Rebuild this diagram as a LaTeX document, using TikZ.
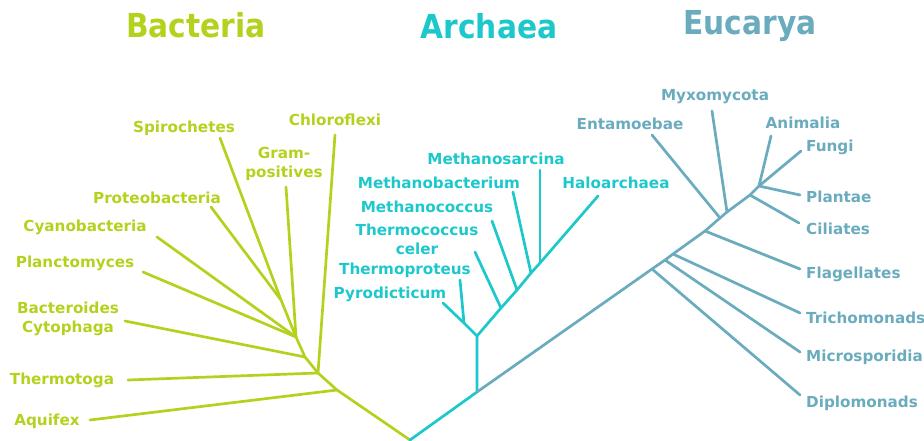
\documentclass[tikz,border=0pt]{standalone}
\usepackage{fontspec}
\setmainfont{DejaVu Sans}
\newfontfamily\condfont{DejaVu Sans Condensed}
\usetikzlibrary{positioning}
\definecolor{bactgreen}{HTML}{B3D21E}
\definecolor{archcyan}{HTML}{1CC8CC}
\definecolor{eucblue}{HTML}{6AABBE}
\tikzset{
  every picture/.append style={line cap=round,line join=round},
  tree branch/.style={line width=2.7pt},
  tree label/.style={font=\fontsize{15.2}{19}\selectfont\bfseries,align=center,inner sep=0pt},
  tree title/.style={font=\condfont\fontsize{33}{36}\selectfont\bfseries,inner sep=0pt}
}

\begin{document}
\begin{tikzpicture}[x=1pt,y=-1pt]
\useasboundingbox (0,0) rectangle (924,441);

\node[tree title,bactgreen] (bacteria) at (196,25) {Bacteria};
\node[tree title,archcyan] (archaea) at (489,26) {Archaea};
\node[tree title,eucblue] (eucarya) at (750,26) {Eucarya};

\coordinate (root) at (410,440);

% Bacteria
\begin{scope}[bactgreen]
\coordinate (bA) at (337,390);
\coordinate (bB) at (318,373);
\coordinate (bC) at (305,357);
\coordinate (bD) at (296,337);
\coordinate (bE) at (281,300);
\coordinate (aquifex end) at (90,420);
\coordinate (thermotoga end) at (128,380);
\coordinate (chloroflexi end) at (335,135);
\coordinate (bacteroides end) at (125,321);
\coordinate (grampos end) at (286,187);
\coordinate (planctomyces end) at (143,272);
\coordinate (cyano end) at (157,237);
\coordinate (proteo end) at (211,207);
\coordinate (spiro end) at (220,138);
\node[tree label] (aquifex) at (47,421) {Aquifex};
\node[tree label] (thermotoga) at (62,380) {Thermotoga};
\node[tree label] (chloroflexi) at (335,120) {Chloroflexi};
\node[tree label] (bacteroides) at (68,319) {Bacteroides\\Cytophaga};
\node[tree label] (grampos) at (284,164) {Gram-\\positives};
\node[tree label] (planctomyces) at (75,263) {Planctomyces};
\node[tree label] (cyano) at (85,227) {Cyanobacteria};
\node[tree label] (proteo) at (157,198) {Proteobacteria};
\node[tree label] (spiro) at (184,128) {Spirochetes};
\draw[tree branch] (root) -- (bA) -- (bB) -- (bC) -- (bD) -- (bE) -- (spiro end);
\draw[tree branch] (bA) -- (aquifex end);
\draw[tree branch] (bB) -- (thermotoga end);
\draw[tree branch] (bB) -- (chloroflexi end);
\draw[tree branch] (bC) -- (bacteroides end);
\draw[tree branch] (bD) -- (grampos end);
\draw[tree branch] (bD) -- (planctomyces end);
\draw[tree branch] (bD) -- (cyano end);
\draw[tree branch] (bE) -- (proteo end);
\end{scope}

% Archaea
\begin{scope}[archcyan]
\coordinate (aF) at (477,392);
\coordinate (aG) at (477,336);
\coordinate (aH) at (464,323);
\coordinate (aTc) at (501,308);
\coordinate (aMc) at (517,290);
\coordinate (aMb) at (531,273);
\coordinate (aMs) at (540,263);
\coordinate (pyro end) at (443,303);
\coordinate (thermoprot end) at (460,280);
\coordinate (thermococ end) at (475,252);
\coordinate (methcoc end) at (492,221);
\coordinate (methbac end) at (513,192);
\coordinate (methsar end) at (540,170);
\coordinate (halo end) at (598,196);
\node[tree label] (pyro) at (390,294) {Pyrodicticum};
\node[tree label] (thermoprot) at (405,270) {Thermoproteus};
\node[tree label] (thermococ) at (417,239) {Thermococcus\\celer};
\node[tree label] (methcoc) at (427,207) {Methanococcus};
\node[tree label] (methbac) at (439,183) {Methanobacterium};
\node[tree label] (methsar) at (496,159) {Methanosarcina};
\node[tree label] (halo) at (616,183) {Haloarchaea};
\draw[tree branch] (root) -- (aF) -- (aG) -- (aH) -- (pyro end);
\draw[tree branch] (aH) -- (thermoprot end);
\draw[tree branch] (aG) -- (aTc) -- (aMc) -- (aMb) -- (aMs) -- (halo end);
\draw[tree branch] (aTc) -- (thermococ end);
\draw[tree branch] (aMc) -- (methcoc end);
\draw[tree branch] (aMb) -- (methbac end);
\draw[tree branch] (aMs) -- (methsar end);
\end{scope}

% Eucarya
\begin{scope}[eucblue]
\coordinate (eDi) at (652,269);
\coordinate (eMi) at (665,260);
\coordinate (eTr) at (673,254);
\coordinate (eFl) at (705,231);
\coordinate (eEn) at (720,218);
\coordinate (eMy) at (727,212);
\coordinate (eCi) at (750,195);
\coordinate (eN) at (759,186);
\coordinate (diplo end) at (800,395);
\coordinate (micro end) at (800,352);
\coordinate (tricho end) at (800,313);
\coordinate (flag end) at (800,269);
\coordinate (cil end) at (799,223);
\coordinate (plant end) at (800,195);
\coordinate (fungi end) at (801,151);
\coordinate (anim end) at (771,136);
\coordinate (myxo end) at (712,111);
\coordinate (entam end) at (652,135);
\node[tree label,anchor=west] (diplo) at (806,403) {Diplomonads};
\node[tree label,anchor=west] (micro) at (806,357) {Microsporidia};
\node[tree label,anchor=west] (tricho) at (806,318) {Trichomonads};
\node[tree label,anchor=west] (flag) at (806,274) {Flagellates};
\node[tree label,anchor=west] (cil) at (806,229) {Ciliates};
\node[tree label,anchor=west] (plant) at (806,197) {Plantae};
\node[tree label,anchor=west] (fungi) at (806,147) {Fungi};
\node[tree label] (anim) at (803,123) {Animalia};
\node[tree label] (myxo) at (715,97) {Myxomycota};
\node[tree label] (entam) at (630,124) {Entamoebae};
\draw[tree branch] (aF) -- (eDi) -- (eMi) -- (eTr) -- (eFl) -- (eEn) -- (eMy) -- (eCi) -- (eN);
\draw[tree branch] (eDi) -- (diplo end);
\draw[tree branch] (eMi) -- (micro end);
\draw[tree branch] (eTr) -- (tricho end);
\draw[tree branch] (eFl) -- (flag end);
\draw[tree branch] (eEn) -- (entam end);
\draw[tree branch] (eMy) -- (myxo end);
\draw[tree branch] (eCi) -- (cil end);
\draw[tree branch] (eN) -- (plant end);
\draw[tree branch] (eN) -- (fungi end);
\draw[tree branch] (eN) -- (anim end);
\end{scope}
\end{tikzpicture}
\end{document}
